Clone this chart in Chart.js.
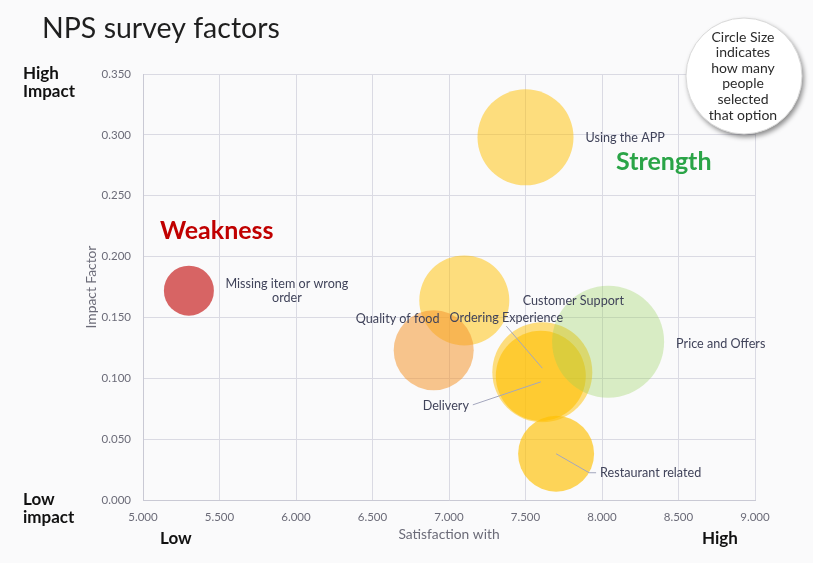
<!DOCTYPE html>
<html>
<head>
<meta charset="utf-8">
<script src="https://cdn.jsdelivr.net/npm/chart.js@4.4.1/dist/chart.umd.min.js"></script>
<style>
  html, body { margin: 0; padding: 0; background: #fafafb; }
  #wrap { width: 813px; height: 563px; position: relative; }
</style>
</head>
<body>
<div id="wrap"><canvas id="c" width="813" height="563"></canvas></div>
<script>
// ---- Data ----
const categories = ["Missing item or wrong order", "Using the APP", "Customer Support", "Quality of food",
                    "Ordering Experience", "Delivery", "Price and Offers", "Restaurant related"];
const satisfaction = [5.30, 7.50, 7.10, 6.90, 7.61, 7.60, 8.04, 7.70];
const impactFactor = [0.172, 0.298, 0.164, 0.123, 0.105, 0.102, 0.130, 0.038];
const circleSize   = [25, 48, 45, 40, 50, 45, 56, 38];
const xTicks = [5.0, 5.5, 6.0, 6.5, 7.0, 7.5, 8.0, 8.5, 9.0];
const yTicks = [0.0, 0.05, 0.10, 0.15, 0.20, 0.25, 0.30, 0.35];

// ---- Styles ----
const colors = [
  "rgba(192,0,0,0.6)",
  "rgba(255,192,0,0.5)",
  "rgba(255,192,0,0.5)",
  "rgba(244,151,50,0.55)",
  "rgba(255,192,0,0.5)",
  "rgba(255,192,0,0.6)",
  "rgba(146,208,80,0.32)",
  "rgba(255,192,0,0.65)"
];
// label placement relative to bubble center (px): dx, dy, align, lines, leader
const labelStyle = [
  { dx: 98,  dy: 0,   align: "center", lines: ["Missing item or wrong", "order"] },
  { dx: 60,  dy: 1,   align: "left" },
  { dx: 109, dy: 1,   align: "center" },
  { dx: -36, dy: -31, align: "center" },
  { dx: -36, dy: -54, align: "center", leader: [[-36, -46], [0, -4]] },
  { dx: -95, dy: 30,  align: "center", leader: [[-68, 29], [0, 6]] },
  { dx: 68,  dy: 2,   align: "left" },
  { dx: 44,  dy: 19,  align: "left", leader: [[0, 0], [33, 19], [40, 19]] }
];

const FONT = "Lato, 'Open Sans', sans-serif";

const points = satisfaction.map((x, i) => ({ x: x, y: impactFactor[i], r: circleSize[i] }));

const overlay = {
  id: "overlay",
  afterDatasetsDraw(chart) {
    const ctx = chart.ctx;
    const meta = chart.getDatasetMeta(0);
    ctx.save();
    // leader lines
    ctx.strokeStyle = "#a3a6bd";
    ctx.lineWidth = 1;
    meta.data.forEach((el, i) => {
      const st = labelStyle[i];
      if (!st.leader) return;
      ctx.beginPath();
      st.leader.forEach((p, k) => {
        const px = el.x + p[0], py = el.y + p[1];
        if (k === 0) ctx.moveTo(px, py); else ctx.lineTo(px, py);
      });
      ctx.stroke();
    });
    // labels
    ctx.fillStyle = "#40435a";
    ctx.font = "12.6px " + FONT;
    ctx.textBaseline = "middle";
    meta.data.forEach((el, i) => {
      const st = labelStyle[i];
      const lines = st.lines || [categories[i]];
      ctx.textAlign = st.align;
      lines.forEach((ln, k) => {
        ctx.fillText(ln, el.x + st.dx, el.y + st.dy + (k - (lines.length - 1) / 2) * 14);
      });
    });
    ctx.restore();
  },
  afterDraw(chart) {
    const ctx = chart.ctx;
    ctx.save();
    ctx.textBaseline = "middle";
    // title
    ctx.fillStyle = "#1f1f1f";
    ctx.font = "28.5px " + FONT;
    ctx.textAlign = "left";
    ctx.fillText("NPS survey factors", 42, 29);
    // corner annotations
    ctx.fillStyle = "#111";
    ctx.font = "bold 17px " + FONT;
    ctx.fillText("High", 23, 74);
    ctx.fillText("Impact", 23, 92);
    ctx.fillText("Low", 23, 500);
    ctx.fillText("impact", 23, 518);
    ctx.fillText("Low", 160, 539);
    ctx.fillText("High", 702, 539);
    // quadrant labels
    ctx.font = "bold 25px " + FONT;
    ctx.fillStyle = "#c00000";
    ctx.fillText("Weakness", 160, 231);
    ctx.fillStyle = "#2aa447";
    ctx.fillText("Strength", 616, 162);
    // callout bubble
    ctx.save();
    ctx.shadowColor = "rgba(0,0,0,0.45)";
    ctx.shadowBlur = 5;
    ctx.shadowOffsetX = 2;
    ctx.shadowOffsetY = 3;
    ctx.fillStyle = "#ffffff";
    ctx.beginPath();
    ctx.arc(744, 76, 58, 0, Math.PI * 2);
    ctx.fill();
    ctx.restore();
    ctx.strokeStyle = "#d8d8d8";
    ctx.lineWidth = 1;
    ctx.beginPath();
    ctx.arc(744, 76, 58, 0, Math.PI * 2);
    ctx.stroke();
    ctx.fillStyle = "#2b2b2b";
    ctx.font = "14px " + FONT;
    ctx.textAlign = "center";
    ["Circle Size", "indicates", "how many", "people", "selected", "that option"].forEach((t, k) => {
      ctx.fillText(t, 743, 37 + k * 15.6);
    });
    ctx.restore();
  }
};

new Chart(document.getElementById("c"), {
  type: "bubble",
  data: {
    datasets: [{
      label: "NPS factors",
      data: points,
      backgroundColor: colors,
      borderWidth: 0,
      hoverBorderWidth: 0
    }]
  },
  options: {
    responsive: false,
    animation: false,
    events: [],
    layout: { padding: { left: 0, right: 58, top: 74, bottom: 0 } },
    plugins: { legend: { display: false }, tooltip: { enabled: false }, title: { display: false } },
    scales: {
      x: {
        type: "linear",
        min: xTicks[0], max: xTicks[xTicks.length - 1],
        afterBuildTicks: (s) => { s.ticks = xTicks.map(v => ({ value: v })); },
        afterFit: (s) => { s.height = 63; },
        ticks: { callback: (v) => Number(v).toFixed(3), color: "#6b6b78", font: { family: FONT, size: 11.5 }, padding: 10, maxRotation: 0 },
        grid: { color: "#dadae3", drawTicks: false },
        border: { color: "#c9c9d4" },
        title: { display: true, text: "Satisfaction with", color: "#6b6b78", font: { family: FONT, size: 13.8 }, padding: { top: 0, bottom: 20 } }
      },
      y: {
        type: "linear",
        min: yTicks[0], max: yTicks[yTicks.length - 1],
        afterBuildTicks: (s) => { s.ticks = yTicks.map(v => ({ value: v })); },
        afterFit: (s) => { s.width = 143; },
        ticks: { callback: (v) => Number(v).toFixed(3), color: "#6b6b78", font: { family: FONT, size: 11.5 }, padding: 12 },
        grid: { color: "#dadae3", drawTicks: false },
        border: { color: "#c9c9d4" },
        title: { display: true, text: "Impact Factor", color: "#6b6b78", font: { family: FONT, size: 13.8 }, padding: { top: 83, bottom: 0 } }
      }
    }
  },
  plugins: [overlay]
});
</script>
</body>
</html>
